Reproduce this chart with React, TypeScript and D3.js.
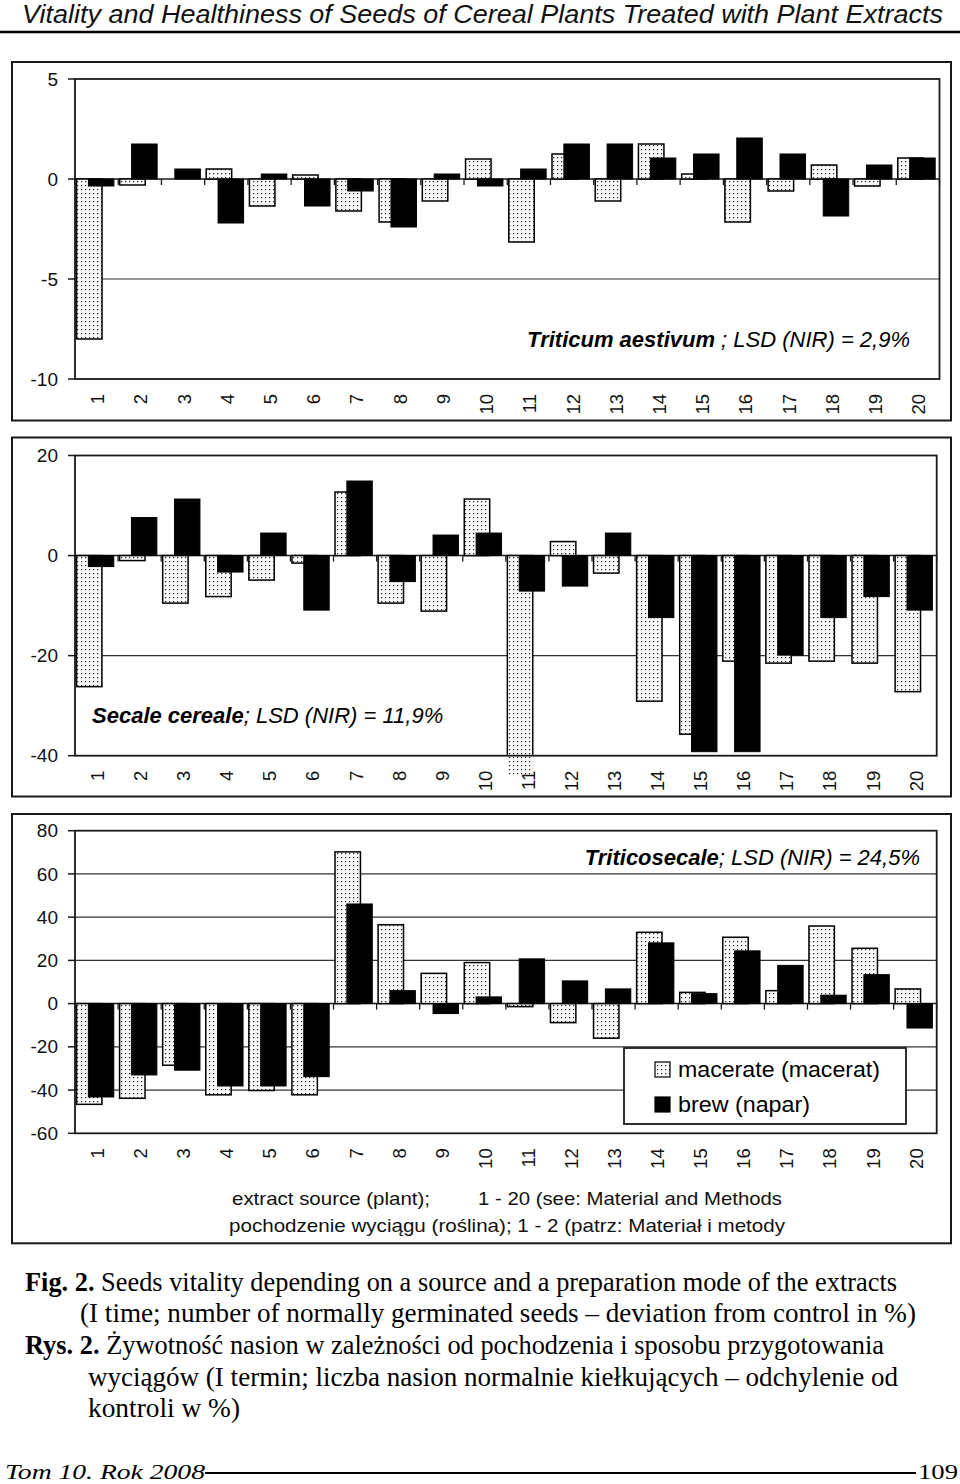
import React from "react";
import * as d3 from "d3";

const categories = ["1","2","3","4","5","6","7","8","9","10","11","12","13","14","15","16","17","18","19","20"];

const wheatMacerate = [-8.0,-0.3,0,0.5,-1.35,0.2,-1.6,-2.15,-1.1,1.0,-3.15,1.25,-1.1,1.75,0.25,-2.15,-0.6,0.7,-0.35,1.05];
const wheatBrew = [-0.35,1.75,0.5,-2.2,0.25,-1.35,-0.6,-2.4,0.25,-0.35,0.5,1.75,1.75,1.05,1.25,2.05,1.25,-1.85,0.7,1.05];
const ryeMacerate = [-26.2,-1.0,-9.5,-8.2,-4.9,-1.5,12.7,-9.5,-11.1,11.3,-44.2,2.8,-3.5,-29.1,-35.7,-21.1,-21.5,-21.1,-21.5,-27.2];
const ryeBrew = [-2.2,7.6,11.3,-3.3,4.5,-10.9,14.9,-5.2,4.1,4.5,-7.1,-6.1,4.5,-12.4,-39.2,-39.2,-19.9,-12.4,-8.2,-10.9];
const triticaleMacerate = [-46.6,-43.8,-28.5,-42.2,-40.2,-42.2,70.2,36.5,14.0,19.0,-1.4,-8.8,-16.0,33.0,5.2,30.7,6.0,35.9,25.6,6.8];
const triticaleBrew = [-43.2,-33.0,-30.8,-38.1,-38.1,-33.8,46.1,6.0,-4.6,3.1,20.7,10.5,6.8,28.1,4.6,24.4,17.7,3.9,13.4,-11.3];

const wheatTicks = [5, 0, -5, -10];
const ryeTicks = [20, 0, -20, -40];
const triticaleTicks = [80, 60, 40, 20, 0, -20, -40, -60];

const seriesNames = ["macerate (macerat)", "brew (napar)"];

const SANS = "'Liberation Sans', Arial, sans-serif";
const SERIF = "'Liberation Serif', 'Times New Roman', serif";
const DARK = "#1a1a1a";

type PanelProps = {
  id: string;
  frame: [number, number, number, number];
  plot: { left: number; right: number; top: number; bottom: number };
  domain: [number, number];
  ticks: number[];
  mac: number[];
  brew: number[];
  species: string;
  rest: string;
  labelX: number;
  labelY: number;
  labelAnchor: "start" | "end";
  legend?: boolean;
};

function Panel(p: PanelProps) {
  const x = d3.scaleBand<string>().domain(categories).range([p.plot.left, p.plot.right]).paddingInner(0).paddingOuter(0);
  const y = d3.scaleLinear().domain(p.domain).range([p.plot.bottom, p.plot.top]);
  const w = x.bandwidth();
  const y0 = y(0);
  const grid = p.ticks.filter((t) => t !== 0 && t !== p.domain[0] && t !== p.domain[1]);
  const [fx0, fy0, fx1, fy1] = p.frame;
  const barW = w * 0.59;
  const macOff = w * 0.035;
  const brewOff = w * 0.31;
  const clipId = "clip-" + p.id;
  return (
    <g>
      <defs>
        <clipPath id={clipId}>
          <rect x={p.plot.left - 2} y={p.plot.top - 2} width={p.plot.right - p.plot.left + 4} height={p.plot.bottom - p.plot.top + 1} />
        </clipPath>
      </defs>
      <rect x={fx0} y={fy0} width={fx1 - fx0} height={fy1 - fy0} fill="#fff" stroke={DARK} strokeWidth={2} />
      {grid.map((t) => (
        <line key={"g" + t} x1={p.plot.left} x2={p.plot.right} y1={y(t)} y2={y(t)} stroke="#333" strokeWidth={1.2} />
      ))}
      {categories.map((c) => (
        <line key={"xt" + c} x1={(x(c) as number)} x2={(x(c) as number)} y1={y0} y2={y0 + 6} stroke={DARK} strokeWidth={1.3} />
      ))}
      <line x1={p.plot.right} x2={p.plot.right} y1={y0} y2={y0 + 6} stroke={DARK} strokeWidth={1.3} />
      <line x1={p.plot.left} x2={p.plot.right} y1={y0} y2={y0} stroke={DARK} strokeWidth={1.5} />
      {categories.map((c, i) => {
        const v = p.mac[i];
        const bx = (x(c) as number) + macOff;
        const top = Math.min(y(v), y0);
        const h = Math.abs(y(v) - y0);
        return (
          <g key={"m" + c}>
            <rect x={bx} y={top} width={barW} height={h} fill="url(#dots)" />
            <rect x={bx} y={top} width={barW} height={h} fill="none" stroke="#000" strokeWidth={1.5} clipPath={`url(#${clipId})`} />
          </g>
        );
      })}
      {categories.map((c, i) => {
        const v = p.brew[i];
        const bx = (x(c) as number) + brewOff;
        const top = Math.min(y(v), y0);
        const h = Math.abs(y(v) - y0);
        return <rect key={"b" + c} x={bx} y={top} width={barW} height={h} fill="#000" stroke="#000" strokeWidth={1} />;
      })}
      <rect x={p.plot.left} y={p.plot.top} width={p.plot.right - p.plot.left} height={p.plot.bottom - p.plot.top} fill="none" stroke={DARK} strokeWidth={1.8} />
      {p.ticks.map((t) => (
        <g key={"yt" + t}>
          <line x1={p.plot.left - 7} x2={p.plot.left} y1={y(t)} y2={y(t)} stroke={DARK} strokeWidth={1.5} />
          <text x={58} y={y(t)} dy="0.35em" textAnchor="end" fontFamily={SANS} fontSize={19} fill="#111">{t}</text>
        </g>
      ))}
      {categories.map((c) => (
        <text key={"xl" + c}
          transform={`translate(${(x(c) as number) + w / 2 + 1},${p.plot.bottom + 15}) rotate(-90)`}
          textAnchor="end" dominantBaseline="central" fontFamily={SANS} fontSize={18.5} fill="#111">{c}</text>
      ))}
      <text x={p.labelX} y={p.labelY} textAnchor={p.labelAnchor} fontFamily={SANS} fontSize={22} fontStyle="italic" fill="#000">
        <tspan fontWeight="bold">{p.species}</tspan>
        <tspan>{p.rest}</tspan>
      </text>
      {p.legend && (
        <g>
          <rect x={624} y={1048} width={282} height={76} fill="#fff" stroke={DARK} strokeWidth={1.8} />
          <rect x={655} y={1062} width={15} height={15} fill="url(#dots)" stroke="#000" strokeWidth={1.2} />
          <rect x={655} y={1097} width={15} height={15} fill="#000" stroke="#000" strokeWidth={1.2} />
          <text x={678} y={1077} fontFamily={SANS} fontSize={22} fill="#000" textLength={202} lengthAdjust="spacingAndGlyphs">{seriesNames[0]}</text>
          <text x={678} y={1112} fontFamily={SANS} fontSize={22} fill="#000" textLength={132} lengthAdjust="spacingAndGlyphs">{seriesNames[1]}</text>
        </g>
      )}
    </g>
  );
}

export default function App() {
  return (
    <div style={{ position: "absolute", left: 0, top: 0 }}>
      <svg width={960} height={1484} viewBox="0 0 960 1484" style={{ display: "block", background: "#fff" }}>
        <defs>
          <pattern id="dots" x={0} y={0} width={4} height={4} patternUnits="userSpaceOnUse">
            <rect x={0} y={0} width={4} height={4} fill="#fafafa" />
            <rect x={1} y={1} width={1.2} height={1.2} fill="#222" />
          </pattern>
        </defs>
        <rect x={0} y={0} width={960} height={1484} fill="#fff" />
        <text x={22} y={23} fontFamily={SANS} fontStyle="italic" fontSize={26} fill="#111" textLength={921} lengthAdjust="spacingAndGlyphs">
          Vitality and Healthiness of Seeds of Cereal Plants Treated with Plant Extracts
        </text>
        <line x1={0} x2={960} y1={32} y2={32} stroke="#000" strokeWidth={2.6} />

        <Panel id="p1" frame={[12, 62, 951, 420.5]} plot={{ left: 75, right: 939.5, top: 79, bottom: 379 }}
          domain={[-10, 5]} ticks={wheatTicks} mac={wheatMacerate} brew={wheatBrew}
          species="Triticum aestivum" rest=" ; LSD (NIR) = 2,9%" labelX={910} labelY={347} labelAnchor="end" />
        <Panel id="p2" frame={[12, 437.5, 951, 796.5]} plot={{ left: 75, right: 936.7, top: 455.5, bottom: 755.7 }}
          domain={[-40, 20]} ticks={ryeTicks} mac={ryeMacerate} brew={ryeBrew}
          species="Secale cereale" rest="; LSD (NIR) = 11,9%" labelX={92} labelY={723} labelAnchor="start" />
        <Panel id="p3" frame={[12, 814, 951, 1243.3]} plot={{ left: 75, right: 936.7, top: 830.7, bottom: 1133.3 }}
          domain={[-60, 80]} ticks={triticaleTicks} mac={triticaleMacerate} brew={triticaleBrew}
          species="Triticosecale" rest="; LSD (NIR) = 24,5%" labelX={920} labelY={865} labelAnchor="end" legend />

        <text x={232} y={1205} fontFamily={SANS} fontSize={19} fill="#111" textLength={198} lengthAdjust="spacingAndGlyphs">extract source (plant);</text>
        <text x={478} y={1205} fontFamily={SANS} fontSize={19} fill="#111" textLength={304} lengthAdjust="spacingAndGlyphs">1 - 20 (see: Material and Methods</text>
        <text x={229} y={1232} fontFamily={SANS} fontSize={19} fill="#111" textLength={556} lengthAdjust="spacingAndGlyphs">pochodzenie wyciągu (roślina); 1 - 2 (patrz: Materiał i metody</text>

        <text x={25} y={1291} fontFamily={SERIF} fontSize={27} fill="#000" textLength={872} lengthAdjust="spacingAndGlyphs">
          <tspan fontWeight="bold">Fig. 2.</tspan> Seeds vitality depending on a source and a preparation mode of the extracts
        </text>
        <text x={80} y={1322} fontFamily={SERIF} fontSize={27} fill="#000" textLength={836} lengthAdjust="spacingAndGlyphs">
          (I time; number of normally germinated seeds – deviation from control in %)
        </text>
        <text x={25} y={1354} fontFamily={SERIF} fontSize={27} fill="#000" textLength={859} lengthAdjust="spacingAndGlyphs">
          <tspan fontWeight="bold">Rys. 2.</tspan> Żywotność nasion w zależności od pochodzenia i sposobu przygotowania
        </text>
        <text x={88} y={1386} fontFamily={SERIF} fontSize={27} fill="#000" textLength={810} lengthAdjust="spacingAndGlyphs">
          wyciągów (I termin; liczba nasion normalnie kiełkujących – odchylenie od
        </text>
        <text x={88} y={1417} fontFamily={SERIF} fontSize={27} fill="#000" textLength={152} lengthAdjust="spacingAndGlyphs">
          kontroli w %)
        </text>

        <text x={5} y={1479} fontFamily={SERIF} fontStyle="italic" fontSize={22} fill="#000" textLength={200} lengthAdjust="spacingAndGlyphs">Tom 10. Rok 2008</text>
        <line x1={205} x2={916} y1={1473} y2={1473} stroke="#000" strokeWidth={2} />
        <text x={958} y={1479} textAnchor="end" fontFamily={SERIF} fontSize={22} fill="#000" textLength={40} lengthAdjust="spacingAndGlyphs">109</text>
      </svg>
    </div>
  );
}
